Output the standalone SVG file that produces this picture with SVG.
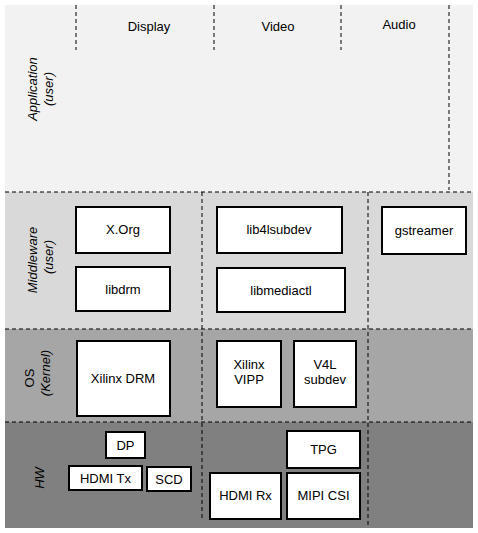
<svg xmlns="http://www.w3.org/2000/svg" width="478" height="533" viewBox="0 0 478 533">
<style>
.box{fill:#fff;stroke:#000;stroke-width:2}
.t{font-family:"Liberation Sans",Arial,sans-serif;font-size:13px;fill:#000;text-anchor:middle}
.lab{font-family:"Liberation Sans",Arial,sans-serif;font-size:13px;fill:#000;text-anchor:middle;font-style:italic}
.d{stroke:#000;stroke-width:1;stroke-dasharray:4,3;fill:none}
</style>
<rect width="478" height="533" fill="#fff"/>
<g id="layers">
<rect x="5" y="5" width="468" height="187" fill="#f2f2f2"/>
<rect x="5" y="192" width="468" height="137" fill="#d9d9d9"/>
<rect x="5" y="329" width="468" height="93" fill="#a6a6a6"/>
<rect x="5" y="422" width="468" height="106" fill="#808080"/>
</g>
<g id="dividers">
<line class="d" x1="5" y1="192" x2="473" y2="192"/>
<line class="d" x1="5" y1="329" x2="473" y2="329"/>
<line class="d" x1="5" y1="422" x2="473" y2="422"/>
<line class="d" x1="76" y1="5" x2="76" y2="50"/>
<line class="d" x1="214" y1="5" x2="214" y2="50"/>
<line class="d" x1="341" y1="5" x2="341" y2="50"/>
<line class="d" x1="449" y1="5" x2="449" y2="190"/>
<line class="d" x1="202" y1="192" x2="202" y2="520"/>
<line class="d" x1="368" y1="192" x2="368" y2="527"/>
</g>
<g id="headers">
<text class="t" x="149" y="31">Display</text>
<text class="t" x="278" y="31">Video</text>
<text class="t" x="399" y="29">Audio</text>
</g>
<g id="layer-labels">
<text class="lab" transform="translate(37,89) rotate(-90)">Application</text>
<text class="lab" transform="translate(53,89) rotate(-90)">(user)</text>
<text class="lab" transform="translate(37,260) rotate(-90)">Middleware</text>
<text class="lab" transform="translate(53,257) rotate(-90)">(user)</text>
<text class="t" transform="translate(34,378) rotate(-90)">OS</text>
<text class="lab" transform="translate(50,373) rotate(-90)">(Kernel)</text>
<text class="lab" transform="translate(44,478) rotate(-90)">HW</text>
</g>
<g id="xorg"><rect class="box" x="76" y="207" width="94" height="46"/><text class="t" x="123" y="234">X.Org</text></g>
<g id="libdrm"><rect class="box" x="76" y="267" width="94" height="44"/><text class="t" x="123" y="294">libdrm</text></g>
<g id="libv4lsubdev"><rect class="box" x="217" y="207" width="125" height="46"/><text class="t" x="279" y="234">lib4lsubdev</text></g>
<g id="libmediactl"><rect class="box" x="217" y="268" width="128" height="44"/><text class="t" x="281" y="295">libmediactl</text></g>
<g id="gstreamer"><rect class="box" x="382" y="207" width="84" height="47"/><text class="t" x="424" y="235">gstreamer</text></g>
<g id="xilinxdrm"><rect class="box" x="77" y="341" width="93" height="75"/><text class="t" x="123" y="383">Xilinx DRM</text></g>
<g id="xilinxvipp"><rect class="box" x="217" y="341" width="64" height="66"/><text class="t" x="249" y="369">Xilinx</text><text class="t" x="249" y="384">VIPP</text></g>
<g id="v4lsubdev"><rect class="box" x="294" y="341" width="62" height="66"/><text class="t" x="325" y="369">V4L</text><text class="t" x="325" y="384">subdev</text></g>
<g id="dp"><rect class="box" x="106" y="432" width="39" height="26"/><text class="t" x="125.5" y="450">DP</text></g>
<g id="hdmitx"><rect class="box" x="69" y="466" width="73" height="24"/><text class="t" x="105.5" y="483">HDMI Tx</text></g>
<g id="scd"><rect class="box" x="147" y="467" width="44" height="24"/><text class="t" x="169" y="484">SCD</text></g>
<g id="hdmirx"><rect class="box" x="210" y="473" width="71" height="46"/><text class="t" x="245.5" y="500">HDMI Rx</text></g>
<g id="tpg"><rect class="box" x="287" y="431" width="73" height="37"/><text class="t" x="323.5" y="454">TPG</text></g>
<g id="mipicsi"><rect class="box" x="287" y="473" width="73" height="46"/><text class="t" x="323.5" y="500">MIPI CSI</text></g>
</svg>
